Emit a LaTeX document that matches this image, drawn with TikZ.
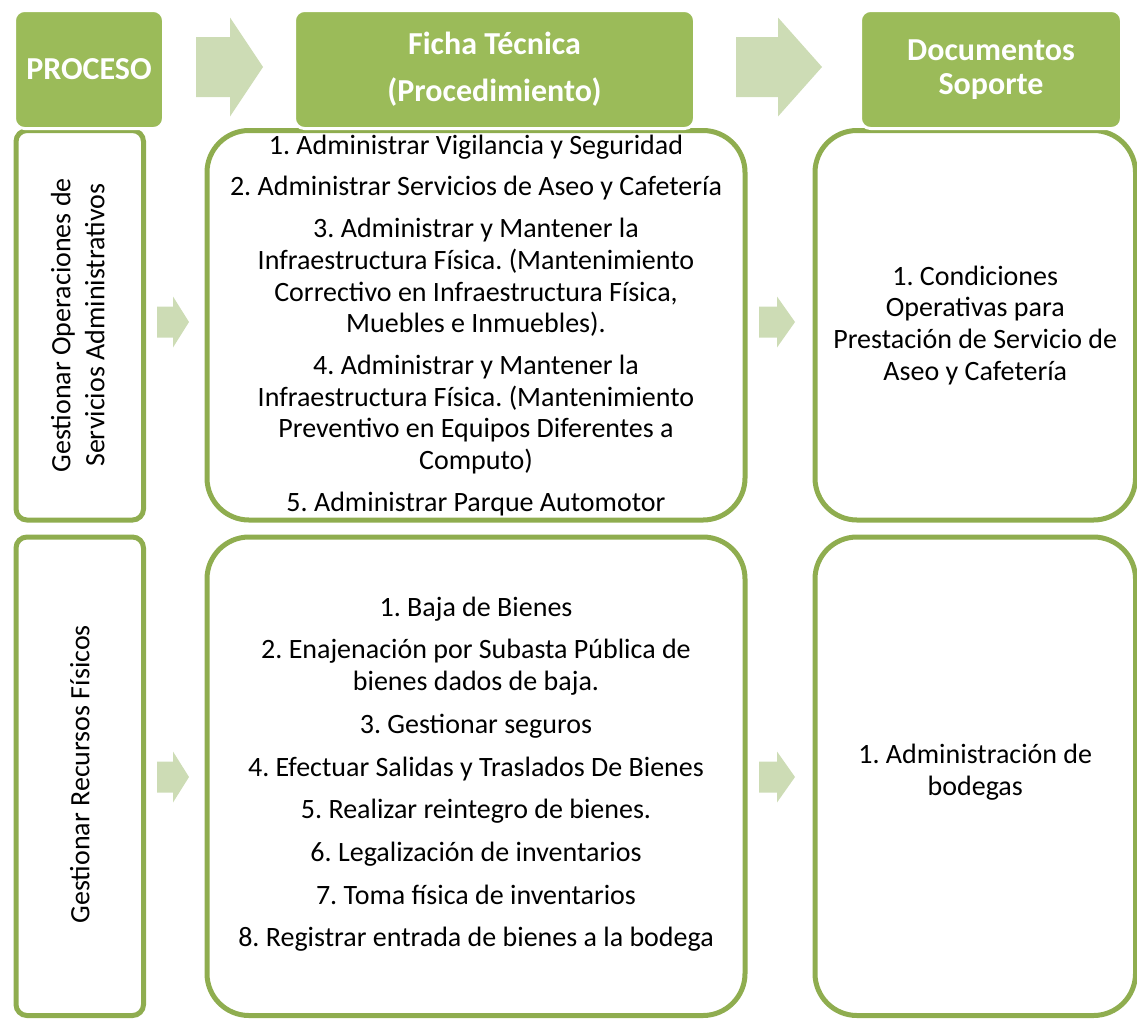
\documentclass[tikz,border=0pt]{standalone}
\usepackage{fontspec}
\setmainfont{Carlito}
\usetikzlibrary{positioning}
\frenchspacing

\definecolor{verde}{HTML}{9BBB59}
\definecolor{borde}{HTML}{8FAD4F}
\definecolor{claro}{HTML}{CDDCB5}

% flecha de bloque: x inicio, x cabeza, x punta, y centro, medio cuerpo, media cabeza
\newcommand{\flecha}[6]{%
  \fill[claro] (#1,#4-#5) -- (#2,#4-#5) -- (#2,#4-#6) -- (#3,#4)
    -- (#2,#4+#6) -- (#2,#4+#5) -- (#1,#4+#5) -- cycle;}

\begin{document}
\begin{tikzpicture}[x=1pt,y=-1pt,
  caja/.style={draw=borde,line width=5pt,rounded corners=#1,inner sep=0pt,anchor=north west},
  titulo/.style={fill=verde,draw=white,line width=3pt,rounded corners=10pt,text=white,
    font=\bfseries\fontsize{32}{34}\selectfont,align=center,inner sep=0pt,anchor=north west,
    minimum height=118pt},
  texto/.style={font=\fontsize{28}{31.7}\selectfont,align=center,inner sep=0pt}]
  \useasboundingbox (0,0) rectangle (1137,1018);

  % cajas de las dos filas
  \node[caja=11pt,minimum width=127.5pt,minimum height=389.5pt] (proc1) at (13.5,128) {};
  \node[caja=42pt,minimum width=538pt,minimum height=389.5pt] (ficha1) at (204.5,128) {};
  \node[caja=42pt,minimum width=320.5pt,minimum height=389.5pt] (doc1) at (812.5,128) {};
  \node[caja=11pt,minimum width=127.5pt,minimum height=478.5pt] (proc2) at (13.5,534.5) {};
  \node[caja=42pt,minimum width=538pt,minimum height=478.5pt] (ficha2) at (204.5,534.5) {};
  \node[caja=42pt,minimum width=320.5pt,minimum height=478.5pt] (doc2) at (812.5,534.5) {};

  % encabezados
  \node[titulo,minimum width=149pt] (proceso) at (13,9) {PROCESO};
  \node[titulo,minimum width=400pt] (ficha) at (293,9) {Ficha Técnica\\[13pt](Procedimiento)};
  \node[titulo,minimum width=261pt] (soporte) at (859,9) {Documentos\\Soporte};

  % flechas
  \flecha{196}{230}{263}{67}{30}{49.5}
  \flecha{736}{778}{822}{67}{30}{49.5}
  \foreach \yc in {322,777}
    {\flecha{157}{173}{189}{\yc}{15.5}{25.5}
     \flecha{759}{777}{795}{\yc}{15.5}{25.5}}

  % textos
  \node[texto,rotate=90,font=\fontsize{28}{34}\selectfont] (tproc1) at ([xshift=-2pt]proc1.center)
    {Gestionar Operaciones de\\Servicios Administrativos};
  \node[texto,rotate=90] (tproc2) at ([yshift=2pt]proc2.center) {Gestionar Recursos Físicos};
  \node[texto] (tficha1) at (ficha1.center) {1. Administrar Vigilancia y Seguridad\\[10pt]
    2. Administrar Servicios de Aseo y Cafetería\\[10pt]
    3. Administrar y Mantener la\\Infraestructura Física. (Mantenimiento\\
    Correctivo en Infraestructura Física,\\Muebles e Inmuebles).\\[10pt]
    4. Administrar y Mantener la\\Infraestructura Física. (Mantenimiento\\
    Preventivo en Equipos Diferentes a\\Computo)\\[10pt]
    5. Administrar Parque Automotor};
  \node[texto] (tficha2) at ([yshift=2pt]ficha2.center) {1. Baja de Bienes\\[11pt]
    2. Enajenación por Subasta Pública de\\bienes dados de baja.\\[11pt]
    3. Gestionar seguros\\[11pt]
    4. Efectuar Salidas y Traslados De Bienes\\[11pt]
    5. Realizar reintegro de bienes.\\[11pt]
    6. Legalización de inventarios\\[11pt]
    7. Toma física de inventarios\\[11pt]
    8. Registrar entrada de bienes a la bodega};
  \node[texto] (tdoc1) at (doc1.center) {1. Condiciones\\Operativas para\\
    Prestación de Servicio de\\Aseo y Cafetería};
  \node[texto] (tdoc2) at ([yshift=4pt]doc2.center) {1. Administración de\\bodegas};
\end{tikzpicture}
\end{document}
